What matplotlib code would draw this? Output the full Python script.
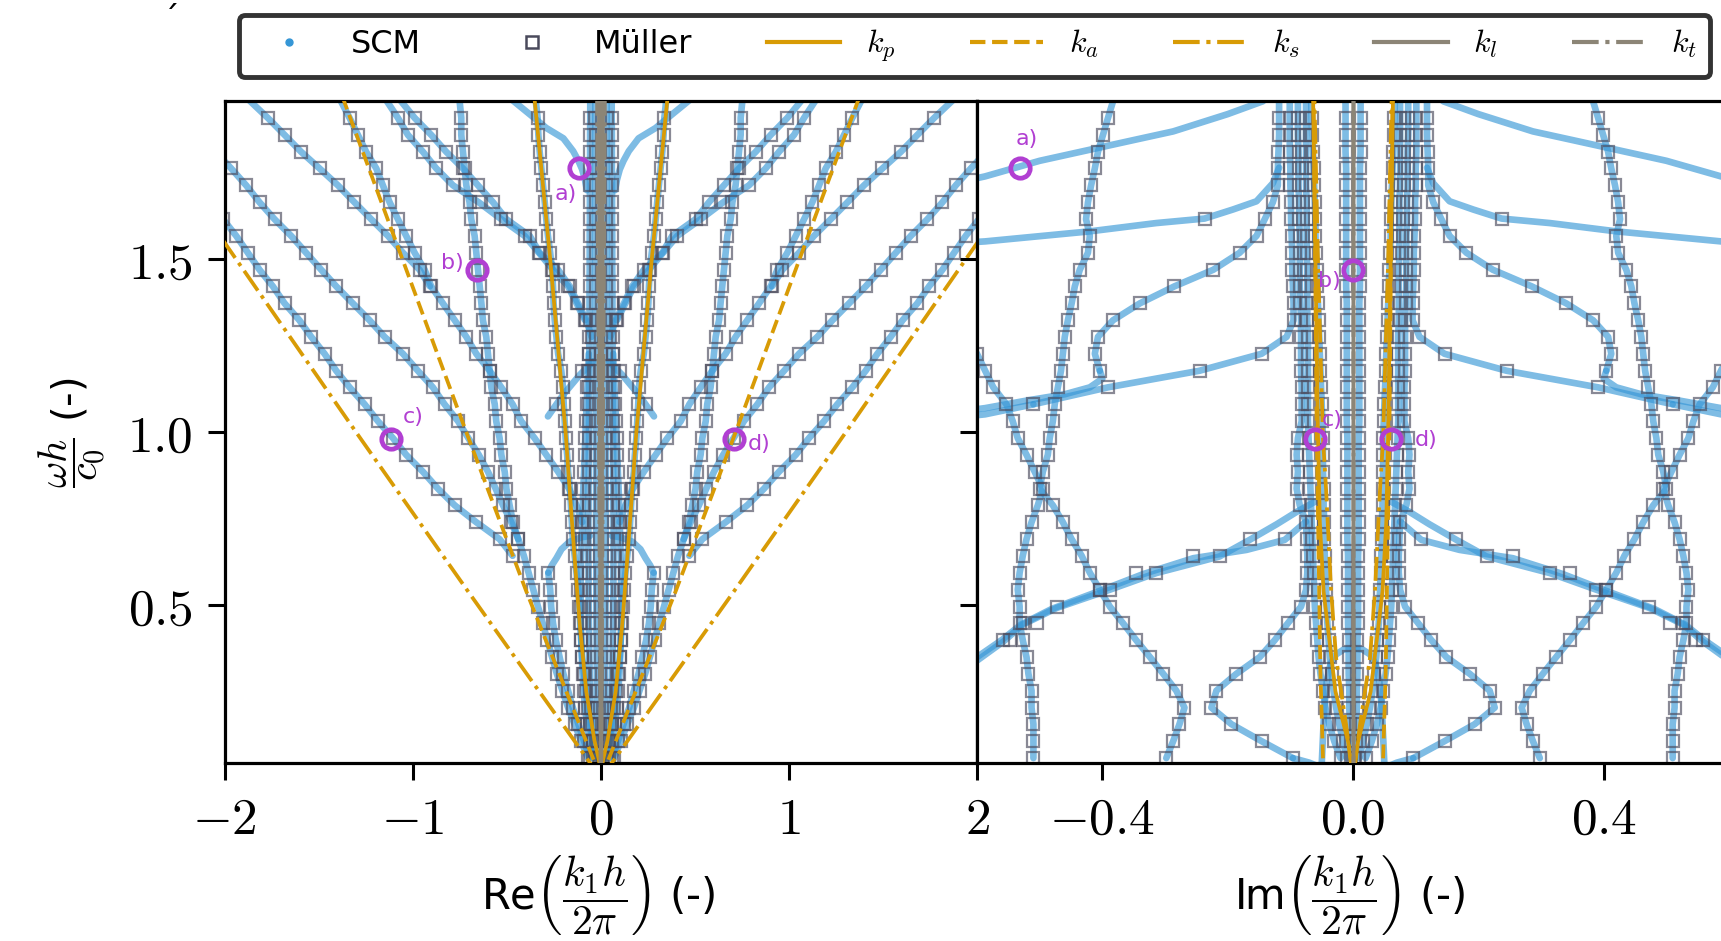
"""
Dispersion branches k1(omega): real and imaginary parts, SCM vs Mueller roots.
"""

import matplotlib

matplotlib.use("Agg")
import matplotlib.pyplot as plt
import numpy as np
from matplotlib.lines import Line2D

plt.rcParams["mathtext.fontset"] = "cm"
plt.rcParams["font.family"] = "DejaVu Sans"

# Frequencies (omega h / c0) at which the Mueller roots were computed.
OMEGA = [0.058, 0.107, 0.156, 0.204, 0.253, 0.302, 0.350, 0.399, 0.448, 0.496,
         0.545, 0.594, 0.643, 0.691, 0.740, 0.789, 0.837, 0.886, 0.935, 0.983,
         1.032, 1.081, 1.130, 1.178, 1.227, 1.276, 1.324, 1.373, 1.422, 1.470,
         1.519, 1.568, 1.616, 1.665, 1.714, 1.763, 1.811, 1.860, 1.909, 1.975]

# Branches: (index of first frequency). +k half only,
# the -k half is the mirror image.
RE_CORE_A = (0, [0.012, 0.015, 0.018, 0.020, 0.022, 0.022, 0.023, 0.023, 0.024, 0.024,
                 0.025, 0.025, 0.025, 0.025, 0.026, 0.026, 0.026, 0.026, 0.026, 0.027,
                 0.027, 0.027, 0.027, 0.027, 0.027, 0.027, 0.028, 0.028, 0.028, 0.028,
                 0.028, 0.028, 0.028, 0.029, 0.029, 0.029, 0.029, 0.029, 0.030, 0.030])
RE_CORE_B = (0, [0.030, 0.040, 0.050, 0.055, 0.058, 0.060, 0.062, 0.063, 0.064, 0.065,
                 0.066, 0.066, 0.067, 0.067, 0.067, 0.066, 0.066, 0.065, 0.065, 0.064,
                 0.064, 0.063, 0.063, 0.062, 0.062, 0.062, 0.061, 0.061, 0.061, 0.060,
                 0.060, 0.060, 0.059, 0.059, 0.059, 0.058, 0.058, 0.058, 0.057, 0.057])
RE_CORE_C = (0, [0.045, 0.060, 0.075, 0.085, 0.092, 0.098, 0.102, 0.105, 0.107, 0.108,
                 0.108, 0.107, 0.105, 0.102, 0.100, 0.097, 0.094, 0.090, 0.087, 0.083,
                 0.080, 0.076, 0.072, 0.068, 0.065])
RE_KP_MODE = (0, [0.030, 0.045, 0.060, 0.070, 0.080, 0.090, 0.100, 0.105, 0.110, 0.115,
                  0.120, 0.130, 0.140, 0.150, 0.155, 0.160, 0.165, 0.175, 0.180, 0.188,
                  0.193, 0.198, 0.202, 0.211, 0.228, 0.237, 0.246, 0.252, 0.255, 0.260,
                  0.270, 0.282, 0.291, 0.299, 0.308, 0.317, 0.326, 0.333, 0.337, 0.350])
RE_B3 = (0, [0.070, 0.105, 0.140, 0.175, 0.205, 0.235, 0.260, 0.285, 0.310, 0.335,
             0.360, 0.385, 0.410, 0.440, 0.468, 0.486, 0.503, 0.512, 0.530, 0.539,
             0.557, 0.565, 0.583, 0.592, 0.601, 0.610, 0.628, 0.636, 0.645, 0.654,
             0.663, 0.672, 0.690, 0.699, 0.716, 0.725, 0.734, 0.743, 0.743, 0.755])
RE_B4A = (25, [0.050, 0.078, 0.122, 0.166, 0.228, 0.326, 0.379, 0.503, 0.574, 0.654,
               0.734, 0.823, 0.903, 0.991, 1.090])
RE_B4B = (26, [0.085, 0.130, 0.175, 0.255, 0.330, 0.406, 0.530, 0.650, 0.787, 0.876,
               0.947, 1.027, 1.080, 1.160])
RE_B5 = (14, [0.100, 0.130, 0.170, 0.228, 0.291, 0.353, 0.424, 0.470, 0.530, 0.592,
              0.663, 0.716, 0.778, 0.841, 0.903, 0.938, 0.991, 1.036, 1.080, 1.124,
              1.160, 1.195, 1.249, 1.293, 1.337, 1.400])
RE_T = (28, [0.910, 0.965, 1.053, 1.133, 1.222, 1.311, 1.399, 1.497, 1.595, 1.683,
             1.772, 1.900])
RE_R2 = (13, [0.440, 0.477, 0.521, 0.560, 0.601, 0.650, 0.705, 0.760, 0.832, 0.894,
              0.974, 1.053, 1.151, 1.231, 1.320, 1.408, 1.488, 1.568, 1.648, 1.736,
              1.816, 1.887, 1.967, 2.050])
RE_R1 = (12, [0.470, 0.539, 0.663, 0.778, 0.867, 0.947, 1.036, 1.106, 1.186, 1.257,
              1.337, 1.408, 1.470, 1.541, 1.604, 1.683, 1.745, 1.816, 1.878, 1.940,
              2.010])
RE_V2 = (0, [0.060, 0.090, 0.120, 0.150, 0.175, 0.200, 0.220, 0.240, 0.255, 0.265,
             0.270, 0.280])

# SCM-only pieces (no Mueller root on them)
RE_TOP_ARC_X = [0.075, 0.085, 0.100, 0.120, 0.148, 0.200, 0.291, 0.380, 0.470]
RE_TOP_ARC_Y = [1.700, 1.730, 1.760, 1.785, 1.813, 1.850, 1.880, 1.920, 1.960]
RE_UP_ARCH_X = [0.042, 0.113, 0.202, 0.282]
RE_UP_ARCH_Y = [1.205, 1.166, 1.108, 1.046]
RE_LOW_ARCH_X = [0.060, 0.100, 0.166, 0.210, 0.237, 0.262, 0.280]
RE_LOW_ARCH_Y = [0.700, 0.697, 0.684, 0.662, 0.636, 0.615, 0.594]
RE_EXTRA_SQ_X = [0.100, 0.240]
RE_EXTRA_SQ_Y = [1.178, 1.081]

IM_CORE_0 = (0, [0.003, 0.004, 0.005, 0.006, 0.006, 0.007, 0.007, 0.007, 0.008, 0.008,
                 0.008, 0.008, 0.008, 0.009, 0.009, 0.009, 0.009, 0.009, 0.009, 0.009,
                 0.010, 0.010, 0.010, 0.010, 0.010, 0.010, 0.010, 0.010, 0.011, 0.011,
                 0.011, 0.011, 0.011, 0.011, 0.011, 0.011, 0.012, 0.012, 0.012, 0.012])
IM_CORE_A = (0, [0.010, 0.016, 0.022, 0.027, 0.031, 0.034, 0.037, 0.039, 0.041, 0.042,
                 0.043, 0.044, 0.045, 0.046, 0.046, 0.047, 0.047, 0.048, 0.048, 0.048,
                 0.049, 0.050, 0.051, 0.052, 0.053, 0.054, 0.055, 0.056, 0.057, 0.058,
                 0.059, 0.060, 0.060, 0.061, 0.062, 0.063, 0.064, 0.065, 0.066, 0.067])
IM_CORE_B = (0, [0.020, 0.030, 0.038, 0.044, 0.048, 0.052, 0.055, 0.057, 0.059, 0.061,
                 0.062, 0.063, 0.064, 0.065, 0.066, 0.067, 0.068, 0.069, 0.070, 0.071,
                 0.072, 0.072, 0.072, 0.072, 0.072, 0.072, 0.073, 0.073, 0.073, 0.073,
                 0.074, 0.074, 0.074, 0.074, 0.075, 0.075, 0.075, 0.075, 0.075, 0.075])
IM_LOOP = (0, [0.096, 0.146, 0.194, 0.226, 0.218, 0.186, 0.149, 0.125, 0.104, 0.083,
               0.075, 0.073, 0.073, 0.074, 0.075, 0.085, 0.090, 0.088, 0.090, 0.088,
               0.082, 0.082, 0.082, 0.083, 0.083, 0.083, 0.083, 0.084, 0.085, 0.085,
               0.085, 0.085, 0.086, 0.086, 0.087, 0.087, 0.087, 0.088, 0.088, 0.088])
IM_H2 = (21, [0.510, 0.391, 0.245, 0.146, 0.106, 0.095, 0.095, 0.096, 0.097, 0.097,
              0.098, 0.099, 0.099, 0.100, 0.100, 0.101, 0.101, 0.101, 0.101])
IM_S = (23, [0.404, 0.412, 0.407, 0.383, 0.340, 0.285, 0.223, 0.181, 0.154, 0.141,
             0.128, 0.120, 0.120, 0.119, 0.118, 0.118, 0.118])
IM_VR = (0, [0.298, 0.287, 0.277, 0.269, 0.282, 0.303, 0.324, 0.346, 0.367, 0.388,
             0.404, 0.420, 0.433, 0.449, 0.463, 0.479, 0.500, 0.495, 0.487, 0.484,
             0.479, 0.476, 0.471, 0.466, 0.463, 0.460, 0.455, 0.449, 0.444, 0.436,
             0.423, 0.420, 0.426, 0.423, 0.418, 0.412, 0.407, 0.399, 0.391, 0.380])
IM_WR = (0, [0.510, 0.510, 0.510, 0.513, 0.513, 0.518, 0.521, 0.527, 0.532, 0.532,
             0.535, 0.532, 0.527, 0.521, 0.513, 0.503, 0.495, 0.508, 0.521, 0.535,
             0.543, 0.553, 0.574, 0.587, 0.600, 0.615])

IM_H0_X = [0.120, 0.144, 0.200, 0.287, 0.350, 0.420, 0.500, 0.587, 0.650]
IM_H0_Y = [2.000, 1.957, 1.920, 1.870, 1.845, 1.817, 1.785, 1.740, 1.715]
IM_H1_X = [0.118, 0.128, 0.154, 0.192, 0.237, 0.314, 0.420, 0.587, 0.650]
IM_H1_Y = [1.765, 1.720, 1.668, 1.644, 1.618, 1.605, 1.581, 1.552, 1.545]
IM_H2_TAIL_X = [0.510, 0.587, 0.650]
IM_H2_TAIL_Y = [1.081, 1.052, 1.040]
IM_S_TAIL_X = [0.404, 0.400, 0.420, 0.460, 0.520, 0.587, 0.650]
IM_S_TAIL_Y = [1.178, 1.155, 1.130, 1.110, 1.092, 1.070, 1.055]
IM_H3A_X = [0.060, 0.090, 0.122, 0.165, 0.213, 0.314, 0.388, 0.473, 0.527, 0.558, 0.600, 0.650]
IM_H3A_Y = [0.800, 0.770, 0.734, 0.689, 0.641, 0.593, 0.545, 0.492, 0.444, 0.395, 0.340, 0.300]
IM_H3B_X = [0.075, 0.109, 0.170, 0.255, 0.335, 0.399, 0.480, 0.530, 0.560, 0.600, 0.650]
IM_H3B_Y = [0.742, 0.689, 0.660, 0.636, 0.590, 0.545, 0.490, 0.444, 0.400, 0.350, 0.300]
IM_ARCH_X = [0.000, 0.015, 0.027, 0.036, 0.042, 0.046, 0.048, 0.050]
IM_ARCH_Y = [0.375, 0.372, 0.358, 0.330, 0.280, 0.200, 0.120, 0.040]
IM_LOOP_TAIL_X = [0.096, 0.070, 0.050]
IM_LOOP_TAIL_Y = [0.058, 0.045, 0.030]
IM_EXTRA_SQ_X = [0.109, 0.165, 0.213, 0.255, 0.314, 0.346, 0.388, 0.404, 0.473,
                 0.505, 0.527, 0.548, 0.558, 0.237]
IM_EXTRA_SQ_Y = [0.691, 0.691, 0.643, 0.643, 0.594, 0.594, 0.545, 0.545, 0.496,
                 0.448, 0.448, 0.399, 0.399, 1.616]

# Bulk wavenumbers
KP_RE_X = [0.000, 0.010, 0.035, 0.078, 0.113, 0.140, 0.166, 0.188, 0.270, 0.352, 0.360]
KP_RE_Y = [0.000, 0.050, 0.110, 0.250, 0.444, 0.636, 0.829, 1.000, 1.500, 1.957, 2.000]
KA_RE_X = [0.000, 0.184, 0.397, 0.716, 1.366, 1.400]
KA_RE_Y = [0.000, 0.250, 0.540, 1.000, 1.957, 2.000]
KS_RE_X = [0.000, 0.707, 1.302, 2.000, 2.600]
KS_RE_Y = [0.000, 0.540, 1.000, 1.547, 2.000]
KL_RE_X = [0.000, 0.010]
KT_RE_X = [0.000, 0.020]
KLT_Y = [0.000, 2.000]

KP_IM_X = [0.000, 0.008, 0.028, 0.047, 0.053, 0.056, 0.060, 0.064]
KP_IM_Y = [0.000, 0.106, 0.250, 0.540, 0.740, 1.000, 1.500, 2.000]
KA_IM_X = [0.047, 0.052, 0.058, 0.063]
KA_IM_Y = [0.000, 0.300, 1.000, 2.000]
KS_IM_X = [0.000, 0.011, 0.027, 0.035, 0.043, 0.048, 0.056, 0.062]
KS_IM_Y = [0.000, 0.154, 0.347, 0.540, 0.834, 0.983, 1.500, 2.000]
KL_IM_X = [0.000, 0.000]
KT_IM_X = [0.000, 0.000]

MARK_LABELS = ["a)", "b)", "c)", "d)"]
MARK_Y = [1.765, 1.470, 0.981, 0.981]
MARK_RE_X = [-0.117, -0.660, -1.116, 0.707]
MARK_IM_X = [-0.532, 0.000, -0.060, 0.061]
LABEL_RE_X = [-0.187, -0.789, -0.999, 0.841]
LABEL_RE_Y = [1.689, 1.489, 1.044, 0.965]
LABEL_IM_X = [-0.520, -0.037, -0.033, 0.117]
LABEL_IM_Y = [1.848, 1.438, 1.035, 0.978]

SCM_BLUE = "#3596d6"
MULLER_EDGE = "#4a4a5c"
ORANGE = "#d89b05"
GREY = "#8c8576"
PURPLE = "#b13fd2"


def scm(ax, xs, ys):
    x = np.asarray(xs)
    for s in (1, -1):
        ax.plot(s * x, ys, color=SCM_BLUE, lw=4.8, alpha=0.64, zorder=1,
                solid_capstyle="round")


def muller(ax, xs, ys):
    x = np.asarray(xs)
    for s in (1, -1):
        ax.plot(s * x, ys, ls="none", marker="s", ms=8.3, mfc="none",
                mec=MULLER_EDGE, mew=1.6, alpha=0.65, zorder=2)


def branch(ax, b):
    k0, xs = b
    ys = OMEGA[k0:k0 + len(xs)]
    scm(ax, xs, ys)
    muller(ax, xs, ys)


def bulk(ax, x, y, color, ls, lw=2.7):
    x = np.asarray(x)
    for s in (1, -1):
        ax.plot(s * x, y, color=color, ls=ls, lw=lw, zorder=3)


def marks(ax, xs, lx, ly):
    ax.plot(xs, MARK_Y, ls="none", marker="o", ms=14, mfc="none", mec=PURPLE,
            mew=3.4, zorder=5)
    for t, x, y in zip(MARK_LABELS, lx, ly):
        ax.text(x, y, t, color=PURPLE, fontsize=16, ha="center", va="center", zorder=5)


def style(ax):
    for sp in ax.spines.values():
        sp.set_linewidth(2.3)
    ax.tick_params(axis="both", direction="out", length=12, width=2.2, pad=11,
                   labelsize=37)
    ax.set_ylim(0.044, 1.958)
    ax.set_yticks([0.5, 1.0, 1.5])


def main() -> None:
    fig = plt.figure(figsize=(17.21, 9.41), dpi=100)
    ax1 = fig.add_axes([0.1307, 0.1892, 0.437, 0.7035])
    ax2 = fig.add_axes([0.5677, 0.1892, 0.437, 0.7035])

    # Real part
    for b in [RE_CORE_A, RE_CORE_B, RE_CORE_C, RE_KP_MODE, RE_B3, RE_B4A, RE_B4B,
              RE_B5, RE_T, RE_R2, RE_R1, RE_V2]:
        branch(ax1, b)
    scm(ax1, RE_TOP_ARC_X, RE_TOP_ARC_Y)
    scm(ax1, RE_UP_ARCH_X, RE_UP_ARCH_Y)
    scm(ax1, RE_LOW_ARCH_X, RE_LOW_ARCH_Y)
    muller(ax1, RE_EXTRA_SQ_X, RE_EXTRA_SQ_Y)
    bulk(ax1, KP_RE_X, KP_RE_Y, ORANGE, "-")
    bulk(ax1, KA_RE_X, KA_RE_Y, ORANGE, "--")
    bulk(ax1, KS_RE_X, KS_RE_Y, ORANGE, "-.")
    bulk(ax1, KL_RE_X, KLT_Y, GREY, "-", 3.0)
    bulk(ax1, KT_RE_X, KLT_Y, GREY, "-.", 3.0)
    marks(ax1, MARK_RE_X, LABEL_RE_X, LABEL_RE_Y)

    # Imaginary part
    for b in [IM_CORE_0, IM_CORE_A, IM_CORE_B, IM_LOOP, IM_H2, IM_S, IM_VR, IM_WR]:
        branch(ax2, b)
    scm(ax2, IM_H0_X, IM_H0_Y)
    scm(ax2, IM_H1_X, IM_H1_Y)
    scm(ax2, IM_H2_TAIL_X, IM_H2_TAIL_Y)
    scm(ax2, IM_S_TAIL_X, IM_S_TAIL_Y)
    scm(ax2, IM_H3A_X, IM_H3A_Y)
    scm(ax2, IM_H3B_X, IM_H3B_Y)
    scm(ax2, IM_ARCH_X, IM_ARCH_Y)
    scm(ax2, IM_LOOP_TAIL_X, IM_LOOP_TAIL_Y)
    muller(ax2, IM_EXTRA_SQ_X, IM_EXTRA_SQ_Y)
    bulk(ax2, KP_IM_X, KP_IM_Y, ORANGE, "-")
    bulk(ax2, KA_IM_X, KA_IM_Y, ORANGE, "--")
    bulk(ax2, KS_IM_X, KS_IM_Y, ORANGE, "-.")
    bulk(ax2, KL_IM_X, KLT_Y, GREY, "-", 2.5)
    bulk(ax2, KT_IM_X, KLT_Y, GREY, "-.", 2.5)
    marks(ax2, MARK_IM_X, LABEL_IM_X, LABEL_IM_Y)

    style(ax1)
    style(ax2)
    ax1.set_xlim(-2, 2)
    ax1.set_xticks([-2, -1, 0, 1, 2])
    ax1.set_xticklabels(["$-2$", "$-1$", "$0$", "$1$", "$2$"])
    ax1.set_yticklabels(["$0.5$", "$1.0$", "$1.5$"])
    ax1.tick_params(axis="y", right=True, labelright=False)
    ax2.set_xlim(-0.6, 0.6)
    ax2.set_xticks([-0.4, 0.0, 0.4])
    ax2.set_xticklabels(["$-0.4$", "$0.0$", "$0.4$"])
    ax2.tick_params(axis="y", left=True, labelleft=False)

    fig.text(0.3475, 0.048, r"Re$\left(\dfrac{k_1 h}{2\pi}\right)$ (-)",
             ha="center", va="center", fontsize=30)
    fig.text(0.7844, 0.048, r"Im$\left(\dfrac{k_1 h}{2\pi}\right)$ (-)",
             ha="center", va="center", fontsize=30)
    fig.text(0.042, 0.540, r"$\dfrac{\omega h}{c_0}$ (-)", rotation=90,
             ha="center", va="center", fontsize=29)
    fig.text(171 / 1721, 1 - 30 / 941, "\u00b4", ha="center", va="baseline", fontsize=24)

    handles = [
        Line2D([], [], ls="none", marker="o", ms=5, color=SCM_BLUE),
        Line2D([], [], ls="none", marker="s", ms=8, mfc="none", mec=MULLER_EDGE, mew=1.8),
        Line2D([], [], color=ORANGE, lw=3, ls="-"),
        Line2D([], [], color=ORANGE, lw=3, ls="--"),
        Line2D([], [], color=ORANGE, lw=3, ls="-."),
        Line2D([], [], color=GREY, lw=3, ls="-"),
        Line2D([], [], color=GREY, lw=3, ls="-."),
    ]
    labels = ["SCM", "Müller", r"$k_p$", r"$k_a$", r"$k_s$", r"$k_l$", r"$k_t$"]
    leg = fig.legend(handles, labels, loc="lower left",
                     bbox_to_anchor=(0.1389, 0.9182, 0.8547, 0.0616), mode="expand",
                     ncol=7, fontsize=23, handlelength=2.3, handletextpad=0.8,
                     borderaxespad=0, frameon=True, fancybox=True, edgecolor="#333333",
                     framealpha=1)
    leg.get_frame().set_linewidth(3.5)

    fig.savefig("out.png", dpi=100)
    plt.close(fig)


if __name__ == "__main__":
    main()
